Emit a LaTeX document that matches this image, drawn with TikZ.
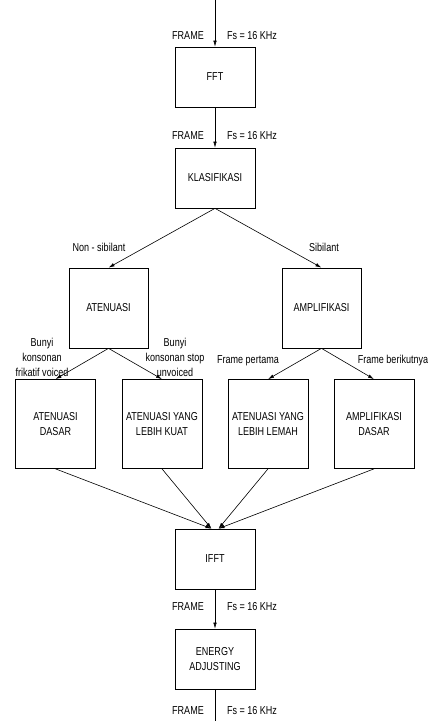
\documentclass[tikz,border=0pt]{standalone}
\usepackage{fontspec}
\setmainfont{Liberation Sans}[FakeStretch=0.785]
\usepackage{tikz}
\usetikzlibrary{arrows.meta, positioning, calc}

\begin{document}
\begin{tikzpicture}[x=1pt, y=-1pt,
		font=\fontsize{11.5}{15}\selectfont,
		blok/.style={draw, line width=0.7pt, align=center, minimum width=80pt, minimum height=60pt, inner sep=2pt},
		blokB/.style={blok, minimum width=79pt, minimum height=80pt},
		blokC/.style={blok, minimum width=80pt, minimum height=89pt},
		lbl/.style={align=center, inner sep=0pt},
		panah/.style={line width=0.6pt, -{Latex[length=6pt, width=3.5pt]}}]
	\useasboundingbox (0,0) rectangle (429,721);

	% jalur utama
	\node[blok] (fft) at (215,77) {FFT};
	\node[blok] (klas) at (215,178) {KLASIFIKASI};
	\node[blokB] (aten) at (108.5,308) {ATENUASI};
	\node[blokB] (ampl) at (321.5,308) {AMPLIFIKASI};
	\node[blokC] (atdasar) at (55.5,424) {ATENUASI\\DASAR};
	\node[blokC] (atkuat) at (162,424) {ATENUASI YANG\\LEBIH KUAT};
	\node[blokC] (atlemah) at (268,424) {ATENUASI YANG\\LEBIH LEMAH};
	\node[blokC] (amdasar) at (374,424) {AMPLIFIKASI\\DASAR};
	\node[blok] (ifft) at (215,559) {IFFT};
	\node[blok] (energi) at (215,659) {ENERGY\\ADJUSTING};

	\coordinate (masuk) at (215,0);
	\coordinate (keluar) at (215,721);
	\coordinate (ifftL) at ($(ifft.north)+(-3.5,0)$);
	\coordinate (ifftR) at ($(ifft.north)+(3.5,0)$);

	% panah
	\draw[panah] (masuk) -- (fft);
	\draw[panah] (fft) -- (klas);
	\draw[panah] (klas.south) -- (aten.north);
	\draw[panah] (klas.south) -- (ampl.north);
	\draw[panah] (aten.south) -- (atdasar.north);
	\draw[panah] (aten.south) -- (atkuat.north);
	\draw[panah] (ampl.south) -- (atlemah.north);
	\draw[panah] (ampl.south) -- (amdasar.north);
	\draw[panah] (atdasar.south) -- (ifftL);
	\draw[panah] (atkuat.south) -- (ifftL);
	\draw[panah] (atlemah.south) -- (ifftR);
	\draw[panah] (amdasar.south) -- (ifftR);
	\draw[panah] (ifft) -- (energi);
	\draw[line width=0.6pt] (energi) -- (keluar);

	% label
	\node[lbl] (fr1) at (188,36) {FRAME};
	\node[lbl] (fs1) at (252,36) {Fs = 16 KHz};
	\node[lbl] (fr2) at (188,136) {FRAME};
	\node[lbl] (fs2) at (252,136) {Fs = 16 KHz};
	\node[lbl] (nonsib) at (99,247) {Non - sibilant};
	\node[lbl] (sib) at (324,247) {Sibilant};
	\node[lbl] (frikatif) at (42,357) {Bunyi\\konsonan\\frikatif voiced};
	\node[lbl] (stop) at (175,357) {Bunyi\\konsonan stop\\unvoiced};
	\node[lbl] (pertama) at (248,361) {Frame pertama};
	\node[lbl] (berikut) at (393,361) {Frame berikutnya};
	\node[lbl] (fr3) at (188,607) {FRAME};
	\node[lbl] (fs3) at (252,607) {Fs = 16 KHz};
	\node[lbl] (fr4) at (188,711) {FRAME};
	\node[lbl] (fs4) at (252,711) {Fs = 16 KHz};
\end{tikzpicture}
\end{document}
